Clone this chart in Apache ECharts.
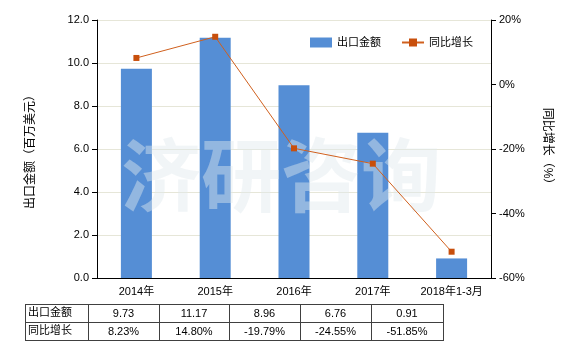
<!DOCTYPE html>
<html><head><meta charset="utf-8">
<script src="https://cdn.jsdelivr.net/npm/echarts@6/dist/echarts.min.js"></script>
<style>html,body{margin:0;padding:0;background:#fff}#c{width:580px;height:350px}</style>
</head><body><div id="c"></div>
<script>
var categories = ['2014年', '2015年', '2016年', '2017年', '2018年1-3月'];
var exportValues = [9.73, 11.17, 8.96, 6.76, 0.91];
var growthValues = [8.23, 14.80, -19.79, -24.55, -51.85];
var exportLabels = ['9.73', '11.17', '8.96', '6.76', '0.91'];
var growthLabels = ['8.23%', '14.80%', '-19.79%', '-24.55%', '-51.85%'];
var rowNames = ['出口金额', '同比增长'];

var FONT = "'Liberation Sans','Noto Sans CJK SC',sans-serif";
var chart = echarts.init(document.getElementById('c'));

// table geometry
var colX = [25, 88, 159, 229, 300, 371, 443];
var rowY = [304, 322, 340];
var g = [];
var lineStyle = {stroke: '#404040', lineWidth: 1};
for (var i = 0; i < colX.length; i++) {
  g.push({type: 'line', shape: {x1: colX[i] + 0.5, y1: rowY[0], x2: colX[i] + 0.5, y2: rowY[2]}, style: lineStyle, z: 10});
}
for (var j = 0; j < rowY.length; j++) {
  g.push({type: 'line', shape: {x1: colX[0], y1: rowY[j] + 0.5, x2: colX[colX.length - 1] + 1, y2: rowY[j] + 0.5}, style: lineStyle, z: 10});
}
var rows = [exportLabels, growthLabels];
for (var r = 0; r < 2; r++) {
  var cy = (rowY[r] + rowY[r + 1]) / 2;
  g.push({type: 'text', x: colX[0] + 3, y: cy, style: {text: rowNames[r], fill: '#000', font: '11px ' + FONT, textVerticalAlign: 'middle', verticalAlign: 'middle'}, z: 10});
  for (var c = 0; c < rows[r].length; c++) {
    g.push({type: 'text', x: (colX[c + 1] + colX[c + 2]) / 2, y: cy + 1, style: {text: rows[r][c], fill: '#000', font: '11px ' + FONT, textAlign: 'center', align: 'center', textVerticalAlign: 'middle', verticalAlign: 'middle'}, z: 10});
  }
}
// watermark
g.push({type: 'text', x: 281, y: 175, style: {text: '济研咨询', fill: 'rgba(225,232,238,0.45)', font: 'bold 80px "Noto Sans CJK SC"', textAlign: 'center', align: 'center', textVerticalAlign: 'middle', verticalAlign: 'middle'}, z: 5, silent: true});

chart.setOption({
  animation: false,
  textStyle: {fontFamily: FONT},
  grid: {left: 97, right: 89, top: 20, bottom: 72},
  legend: {
    top: 32, left: 305, itemWidth: 22, itemHeight: 10, itemGap: 20,
    textStyle: {fontSize: 11, color: '#000'},
    data: [{name: '出口金额', icon: 'rect'}, {name: '同比增长'}]
  },
  xAxis: {
    type: 'category', data: categories,
    axisLine: {lineStyle: {color: '#000'}},
    axisTick: {alignWithLabel: true, lineStyle: {color: '#000'}},
    axisLabel: {color: '#000', fontSize: 11, margin: 8, interval: 0}
  },
  yAxis: [{
    type: 'value', min: 0, max: 12, interval: 2,
    name: '出口金额（百万美元）', nameLocation: 'middle', nameGap: 60, nameRotate: 90,
    nameTextStyle: {fontSize: 12, color: '#000'},
    axisLine: {show: true, lineStyle: {color: '#000'}},
    axisTick: {show: true, lineStyle: {color: '#000'}},
    axisLabel: {color: '#000', fontSize: 11, formatter: function (v) { return v.toFixed(1); }},
    splitLine: {lineStyle: {color: '#e6e6d8'}}
  }, {
    type: 'value', min: -60, max: 20, interval: 20,
    name: '同比增长（%）', nameLocation: 'middle', nameGap: 50, nameRotate: -90,
    nameTextStyle: {fontSize: 12, color: '#000'},
    axisLine: {show: true, lineStyle: {color: '#000'}},
    axisTick: {show: true, lineStyle: {color: '#000'}},
    axisLabel: {color: '#000', fontSize: 11, formatter: '{value}%'},
    splitLine: {show: false}
  }],
  series: [{
    name: '出口金额', type: 'bar', data: exportValues, barWidth: 31,
    itemStyle: {color: '#558ed5'}, z: 2
  }, {
    name: '同比增长', type: 'line', yAxisIndex: 1, data: growthValues,
    symbol: 'rect', symbolSize: 6,
    lineStyle: {color: '#d0601e', width: 1},
    itemStyle: {color: '#c84f0c'}, z: 20
  }],
  graphic: g
});
</script></body></html>
